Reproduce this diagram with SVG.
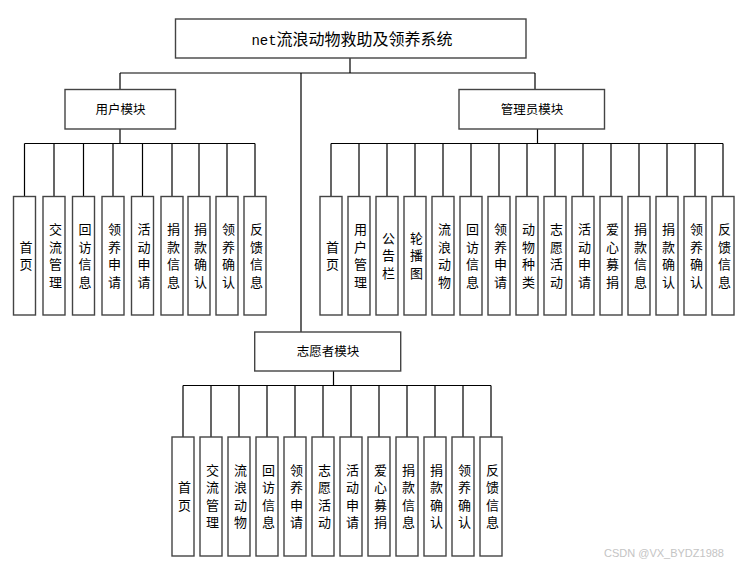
<svg xmlns="http://www.w3.org/2000/svg" width="747" height="567" viewBox="0 0 747 567">
<style>
.box{fill:#fff;stroke:#444;stroke-width:1.4}
.ln{fill:none;stroke:#000;stroke-width:1.2}
.t{font-family:"Noto Sans CJK SC",sans-serif;font-size:16px;fill:#000;text-anchor:middle}
.mono{font-family:"Liberation Mono","Noto Sans CJK SC",monospace;font-size:14px}
.m{font-family:"Noto Sans CJK SC",sans-serif;font-size:12.5px;fill:#000;text-anchor:middle}
.v{font-family:"Noto Sans CJK SC",sans-serif;font-size:13px;fill:#000;text-anchor:middle}
.wm{font-family:"Liberation Sans","Noto Sans CJK SC",sans-serif;font-size:11px;fill:#c4c4c4}
</style>
<rect width="747" height="567" fill="#fff"/>
<g id="connectors">
<path class="ln" d="M350,58V73M120,73H535M120,73V89M535,73V89M301,73V332"/>
<path class="ln" d="M120,129V143.5M24.5,143.5H255M24.5,143.5V196.5M54,143.5V196.5M83.5,143.5V196.5M113,143.5V196.5M142.5,143.5V196.5M172,143.5V196.5M199,143.5V196.5M227,143.5V196.5M255,143.5V196.5"/>
<path class="ln" d="M537.5,129V143.5M331,143.5H723M331,143.5V196.5M359,143.5V196.5M387,143.5V196.5M415,143.5V196.5M443,143.5V196.5M471,143.5V196.5M499,143.5V196.5M527,143.5V196.5M555,143.5V196.5M583,143.5V196.5M611,143.5V196.5M639,143.5V196.5M667,143.5V196.5M695,143.5V196.5M723,143.5V196.5"/>
<path class="ln" d="M333.5,371V385.5M183,385.5H491M183,385.5V437M211,385.5V437M239,385.5V437M267,385.5V437M295,385.5V437M323,385.5V437M351,385.5V437M379,385.5V437M407,385.5V437M435,385.5V437M463,385.5V437M491,385.5V437"/>
</g>
<g id="root"><rect class="box" x="175.5" y="19" width="350.5" height="39"/><text class="t" x="352" y="44.5"><tspan class="mono">net</tspan>流浪动物救助及领养系统</text></g>
<g id="user"><rect class="box" x="65" y="89.5" width="110.5" height="39.5"/><text class="m" x="120.5" y="113.5">用户模块</text></g>
<g id="admin"><rect class="box" x="459" y="89.5" width="145.5" height="39.5"/><text class="m" x="532" y="113.5">管理员模块</text></g>
<g id="volunteer"><rect class="box" x="254.7" y="332" width="146" height="39"/><text class="m" x="328" y="356">志愿者模块</text></g>

<g id="u1"><rect class="box" x="13.5" y="196.5" width="22" height="118.5"/><text class="v" x="26" y="251.5">首<tspan x="26" dy="17.5">页</tspan></text></g>
<g id="u2"><rect class="box" x="43" y="196.5" width="22" height="118.5"/><text class="v" x="55.5" y="234">交<tspan x="55.5" dy="17.5">流</tspan><tspan x="55.5" dy="17.5">管</tspan><tspan x="55.5" dy="17.5">理</tspan></text></g>
<g id="u3"><rect class="box" x="72.5" y="196.5" width="22" height="118.5"/><text class="v" x="85" y="234">回<tspan x="85" dy="17.5">访</tspan><tspan x="85" dy="17.5">信</tspan><tspan x="85" dy="17.5">息</tspan></text></g>
<g id="u4"><rect class="box" x="102" y="196.5" width="22" height="118.5"/><text class="v" x="114.5" y="234">领<tspan x="114.5" dy="17.5">养</tspan><tspan x="114.5" dy="17.5">申</tspan><tspan x="114.5" dy="17.5">请</tspan></text></g>
<g id="u5"><rect class="box" x="131.5" y="196.5" width="22" height="118.5"/><text class="v" x="144" y="234">活<tspan x="144" dy="17.5">动</tspan><tspan x="144" dy="17.5">申</tspan><tspan x="144" dy="17.5">请</tspan></text></g>
<g id="u6"><rect class="box" x="161" y="196.5" width="22" height="118.5"/><text class="v" x="173.5" y="234">捐<tspan x="173.5" dy="17.5">款</tspan><tspan x="173.5" dy="17.5">信</tspan><tspan x="173.5" dy="17.5">息</tspan></text></g>
<g id="u7"><rect class="box" x="188" y="196.5" width="22" height="118.5"/><text class="v" x="200.5" y="234">捐<tspan x="200.5" dy="17.5">款</tspan><tspan x="200.5" dy="17.5">确</tspan><tspan x="200.5" dy="17.5">认</tspan></text></g>
<g id="u8"><rect class="box" x="216" y="196.5" width="22" height="118.5"/><text class="v" x="228.5" y="234">领<tspan x="228.5" dy="17.5">养</tspan><tspan x="228.5" dy="17.5">确</tspan><tspan x="228.5" dy="17.5">认</tspan></text></g>
<g id="u9"><rect class="box" x="244" y="196.5" width="22" height="118.5"/><text class="v" x="256.5" y="234">反<tspan x="256.5" dy="17.5">馈</tspan><tspan x="256.5" dy="17.5">信</tspan><tspan x="256.5" dy="17.5">息</tspan></text></g>

<g id="a1"><rect class="box" x="320" y="196.5" width="22" height="118.5"/><text class="v" x="332.5" y="251.5">首<tspan x="332.5" dy="17.5">页</tspan></text></g>
<g id="a2"><rect class="box" x="348" y="196.5" width="22" height="118.5"/><text class="v" x="360.5" y="234">用<tspan x="360.5" dy="17.5">户</tspan><tspan x="360.5" dy="17.5">管</tspan><tspan x="360.5" dy="17.5">理</tspan></text></g>
<g id="a3"><rect class="box" x="376" y="196.5" width="22" height="118.5"/><text class="v" x="388.5" y="242.75">公<tspan x="388.5" dy="17.5">告</tspan><tspan x="388.5" dy="17.5">栏</tspan></text></g>
<g id="a4"><rect class="box" x="404" y="196.5" width="22" height="118.5"/><text class="v" x="416.5" y="242.75">轮<tspan x="416.5" dy="17.5">播</tspan><tspan x="416.5" dy="17.5">图</tspan></text></g>
<g id="a5"><rect class="box" x="432" y="196.5" width="22" height="118.5"/><text class="v" x="444.5" y="234">流<tspan x="444.5" dy="17.5">浪</tspan><tspan x="444.5" dy="17.5">动</tspan><tspan x="444.5" dy="17.5">物</tspan></text></g>
<g id="a6"><rect class="box" x="460" y="196.5" width="22" height="118.5"/><text class="v" x="472.5" y="234">回<tspan x="472.5" dy="17.5">访</tspan><tspan x="472.5" dy="17.5">信</tspan><tspan x="472.5" dy="17.5">息</tspan></text></g>
<g id="a7"><rect class="box" x="488" y="196.5" width="22" height="118.5"/><text class="v" x="500.5" y="234">领<tspan x="500.5" dy="17.5">养</tspan><tspan x="500.5" dy="17.5">申</tspan><tspan x="500.5" dy="17.5">请</tspan></text></g>
<g id="a8"><rect class="box" x="516" y="196.5" width="22" height="118.5"/><text class="v" x="528.5" y="234">动<tspan x="528.5" dy="17.5">物</tspan><tspan x="528.5" dy="17.5">种</tspan><tspan x="528.5" dy="17.5">类</tspan></text></g>
<g id="a9"><rect class="box" x="544" y="196.5" width="22" height="118.5"/><text class="v" x="556.5" y="234">志<tspan x="556.5" dy="17.5">愿</tspan><tspan x="556.5" dy="17.5">活</tspan><tspan x="556.5" dy="17.5">动</tspan></text></g>
<g id="a10"><rect class="box" x="572" y="196.5" width="22" height="118.5"/><text class="v" x="584.5" y="234">活<tspan x="584.5" dy="17.5">动</tspan><tspan x="584.5" dy="17.5">申</tspan><tspan x="584.5" dy="17.5">请</tspan></text></g>
<g id="a11"><rect class="box" x="600" y="196.5" width="22" height="118.5"/><text class="v" x="612.5" y="234">爱<tspan x="612.5" dy="17.5">心</tspan><tspan x="612.5" dy="17.5">募</tspan><tspan x="612.5" dy="17.5">捐</tspan></text></g>
<g id="a12"><rect class="box" x="628" y="196.5" width="22" height="118.5"/><text class="v" x="640.5" y="234">捐<tspan x="640.5" dy="17.5">款</tspan><tspan x="640.5" dy="17.5">信</tspan><tspan x="640.5" dy="17.5">息</tspan></text></g>
<g id="a13"><rect class="box" x="656" y="196.5" width="22" height="118.5"/><text class="v" x="668.5" y="234">捐<tspan x="668.5" dy="17.5">款</tspan><tspan x="668.5" dy="17.5">确</tspan><tspan x="668.5" dy="17.5">认</tspan></text></g>
<g id="a14"><rect class="box" x="684" y="196.5" width="22" height="118.5"/><text class="v" x="696.5" y="234">领<tspan x="696.5" dy="17.5">养</tspan><tspan x="696.5" dy="17.5">确</tspan><tspan x="696.5" dy="17.5">认</tspan></text></g>
<g id="a15"><rect class="box" x="712" y="196.5" width="22" height="118.5"/><text class="v" x="724.5" y="234">反<tspan x="724.5" dy="17.5">馈</tspan><tspan x="724.5" dy="17.5">信</tspan><tspan x="724.5" dy="17.5">息</tspan></text></g>

<g id="v1"><rect class="box" x="172" y="437" width="22" height="119"/><text class="v" x="184.5" y="492.25">首<tspan x="184.5" dy="17.5">页</tspan></text></g>
<g id="v2"><rect class="box" x="200" y="437" width="22" height="119"/><text class="v" x="212.5" y="474.75">交<tspan x="212.5" dy="17.5">流</tspan><tspan x="212.5" dy="17.5">管</tspan><tspan x="212.5" dy="17.5">理</tspan></text></g>
<g id="v3"><rect class="box" x="228" y="437" width="22" height="119"/><text class="v" x="240.5" y="474.75">流<tspan x="240.5" dy="17.5">浪</tspan><tspan x="240.5" dy="17.5">动</tspan><tspan x="240.5" dy="17.5">物</tspan></text></g>
<g id="v4"><rect class="box" x="256" y="437" width="22" height="119"/><text class="v" x="268.5" y="474.75">回<tspan x="268.5" dy="17.5">访</tspan><tspan x="268.5" dy="17.5">信</tspan><tspan x="268.5" dy="17.5">息</tspan></text></g>
<g id="v5"><rect class="box" x="284" y="437" width="22" height="119"/><text class="v" x="296.5" y="474.75">领<tspan x="296.5" dy="17.5">养</tspan><tspan x="296.5" dy="17.5">申</tspan><tspan x="296.5" dy="17.5">请</tspan></text></g>
<g id="v6"><rect class="box" x="312" y="437" width="22" height="119"/><text class="v" x="324.5" y="474.75">志<tspan x="324.5" dy="17.5">愿</tspan><tspan x="324.5" dy="17.5">活</tspan><tspan x="324.5" dy="17.5">动</tspan></text></g>
<g id="v7"><rect class="box" x="340" y="437" width="22" height="119"/><text class="v" x="352.5" y="474.75">活<tspan x="352.5" dy="17.5">动</tspan><tspan x="352.5" dy="17.5">申</tspan><tspan x="352.5" dy="17.5">请</tspan></text></g>
<g id="v8"><rect class="box" x="368" y="437" width="22" height="119"/><text class="v" x="380.5" y="474.75">爱<tspan x="380.5" dy="17.5">心</tspan><tspan x="380.5" dy="17.5">募</tspan><tspan x="380.5" dy="17.5">捐</tspan></text></g>
<g id="v9"><rect class="box" x="396" y="437" width="22" height="119"/><text class="v" x="408.5" y="474.75">捐<tspan x="408.5" dy="17.5">款</tspan><tspan x="408.5" dy="17.5">信</tspan><tspan x="408.5" dy="17.5">息</tspan></text></g>
<g id="v10"><rect class="box" x="424" y="437" width="22" height="119"/><text class="v" x="436.5" y="474.75">捐<tspan x="436.5" dy="17.5">款</tspan><tspan x="436.5" dy="17.5">确</tspan><tspan x="436.5" dy="17.5">认</tspan></text></g>
<g id="v11"><rect class="box" x="452" y="437" width="22" height="119"/><text class="v" x="464.5" y="474.75">领<tspan x="464.5" dy="17.5">养</tspan><tspan x="464.5" dy="17.5">确</tspan><tspan x="464.5" dy="17.5">认</tspan></text></g>
<g id="v12"><rect class="box" x="480" y="437" width="22" height="119"/><text class="v" x="492.5" y="474.75">反<tspan x="492.5" dy="17.5">馈</tspan><tspan x="492.5" dy="17.5">信</tspan><tspan x="492.5" dy="17.5">息</tspan></text></g>

<text class="wm" x="604" y="557">CSDN @VX_BYDZ1988</text>
</svg>
